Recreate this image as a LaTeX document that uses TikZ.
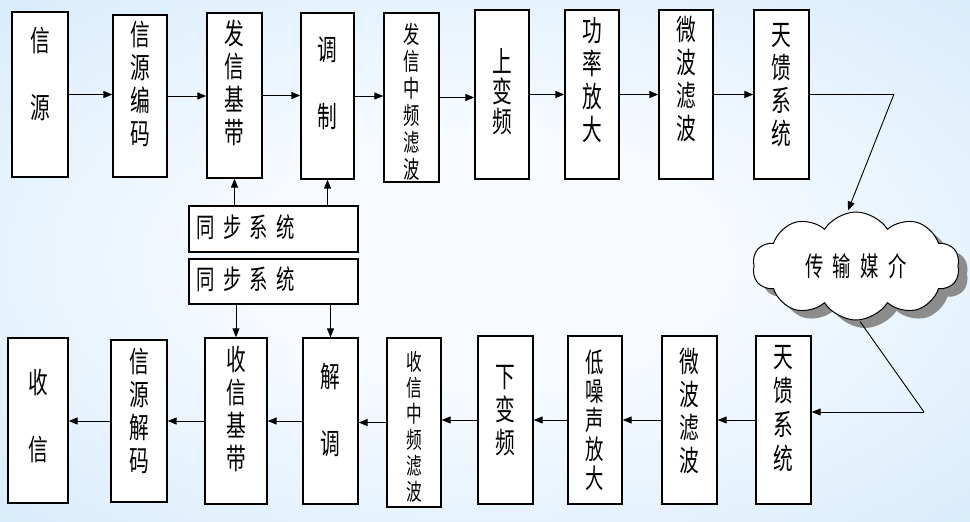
\documentclass[tikz,border=0pt]{standalone}
\usepackage{fontspec}
\newfontfamily\cjk[FakeStretch=0.68]{Noto Sans CJK SC}
\usetikzlibrary{arrows.meta,calc,shapes.symbols,fit}
\definecolor{bgedge}{RGB}{198,227,249}
\definecolor{bgmid}{RGB}{247,251,255}
\definecolor{shadowgray}{RGB}{140,140,140}
\pgfdeclareradialshading{bgshade}{\pgfpoint{0bp}{0bp}}{color(0bp)=(bgmid); color(12bp)=(bgmid); color(50bp)=(bgedge); color(60bp)=(bgedge)}
\tikzset{
  box/.style={draw=black, fill=white, line width=1.3pt, inner sep=0pt},
  lbl/.style={inner sep=0pt, align=center, text=black},
  big/.style={lbl, font=\cjk\fontsize{29}{33}\selectfont},
  bigtwo/.style={lbl, font=\cjk\fontsize{29}{67}\selectfont},
  small/.style={lbl, font=\cjk\fontsize{24}{27}\selectfont},
  arr/.style={-{Triangle[length=9pt,width=7pt]}, line width=0.9pt},
  ln/.style={line width=0.9pt},
  cloudshape/.style={cloud, cloud puffs=10, cloud puff arc=115, aspect=2,
      minimum width=207, minimum height=108, inner sep=0pt}
}
\begin{document}
\begin{tikzpicture}[x=1pt,y=-1pt]
\shade[shading=bgshade] (0,0) rectangle (970,522);
\useasboundingbox (0,0) rectangle (970,522);

% upper row boxes
\node[box, fit={(12,12) (68,177)}] (u1) {};
\node[box, fit={(113,15) (167,177)}] (u2) {};
\node[box, fit={(207,13) (262,178)}] (u3) {};
\node[box, fit={(301,13) (354,179)}] (u4) {};
\node[box, fit={(384,13) (439,182)}] (u5) {};
\node[box, fit={(475,10) (529,179)}] (u6) {};
\node[box, fit={(565,10) (619,179)}] (u7) {};
\node[box, fit={(659,10) (713,179)}] (u8) {};
\node[box, fit={(754,10) (809,179)}] (u9) {};
% sync boxes
\node[box, fit={(189,206) (358,252)}] (s1) {};
\node[box, fit={(189,259) (358,304)}] (s2) {};
% lower row boxes
\node[box, fit={(8,338) (68,503)}] (d1) {};
\node[box, fit={(111,340) (167,502)}] (d2) {};
\node[box, fit={(205,338) (267,504)}] (d3) {};
\node[box, fit={(303,338) (358,504)}] (d4) {};
\node[box, fit={(387,338) (441,507)}] (d5) {};
\node[box, fit={(478,336) (533,504)}] (d6) {};
\node[box, fit={(568,336) (622,504)}] (d7) {};
\node[box, fit={(662,336) (717,504)}] (d8) {};
\node[box, fit={(756,336) (811,504)}] (d9) {};

% upper labels
\node[bigtwo] (u1t) at (40,73.5) {信\\源};
\node[big] (u2t) at (140,84) {信\\源\\编\\码};
\node[big] (u3t) at (234.5,82.5) {发\\信\\基\\带};
\node[bigtwo] (u4t) at (327.5,83) {调\\制};
\node[small] (u5t) at (411.5,102) {发\\信\\中\\频\\滤\\波};
\node[lbl, font=\cjk\fontsize{29}{30}\selectfont] (u6t) at (502,92) {上\\变\\频};
\node[big] (u7t) at (592,80) {功\\率\\放\\大};
\node[big] (u8t) at (686,79) {微\\波\\滤\\波};
\node[big] (u9t) at (781.5,85.5) {天\\馈\\系\\统};

% sync labels
\node[lbl, anchor=west, font=\cjk\fontsize{27}{30}\selectfont] (s1t) at (196,227) {同\hspace{8.5pt}步\hspace{8.5pt}系\hspace{8.5pt}统};
\node[lbl, anchor=west, font=\cjk\fontsize{27}{30}\selectfont] (s2t) at (196,279) {同\hspace{8.5pt}步\hspace{8.5pt}系\hspace{8.5pt}统};

% lower labels
\node[bigtwo] (d1t) at (38,416) {收\\信};
\node[big] (d2t) at (139,410.5) {信\\源\\解\\码};
\node[big] (d3t) at (236,408.5) {收\\信\\基\\带};
\node[bigtwo] (d4t) at (330.5,409.5) {解\\调};
\node[lbl, font=\cjk\fontsize{23}{26}\selectfont] (d5t) at (414,427) {收\\信\\中\\频\\滤\\波};
\node[big] (d6t) at (505.5,411) {下\\变\\频};
\node[lbl, font=\cjk\fontsize{27}{29}\selectfont] (d7t) at (595,420) {低\\噪\\声\\放\\大};
\node[big] (d8t) at (689.5,411) {微\\波\\滤\\波};
\node[lbl, font=\cjk\fontsize{29}{34}\selectfont] (d9t) at (783.5,409) {天\\馈\\系\\统};

% cloud with shadow
\node[cloudshape, fill=shadowgray, draw=none] (medshadow) at (865,274) {};
\node[cloudshape, draw=black, fill=white, line width=1pt,
      font=\cjk\fontsize{27}{30}\selectfont] (med) at (856,266)
      {传\hspace{9.5pt}输\hspace{9.5pt}媒\hspace{9.5pt}介};

% upper arrows
\foreach \a/\b in {u1/u2,u2/u3,u3/u4,u4/u5,u5/u6,u6/u7,u7/u8,u8/u9}
  \draw[arr] (\a.east) -- (\a.east -| \b.west);
% sync arrows
\draw[arr] (s1.north -| u3.south) -- (u3.south);
\draw[arr] (s1.north -| u4.south) -- (u4.south);
\draw[arr] (s2.south -| d3.north) -- (d3.north);
\draw[arr] (s2.south -| d4.north) -- (d4.north);
% to and from medium
\coordinate (tr) at (894,94);
\coordinate (br) at (924,412);
\draw[ln] (u9.east |- tr) -- (tr);
\draw[arr] (tr) -- ($(med.north)+(-8,-1)$);
\draw[ln] ($(med.south)+(4,1)$) -- (br);
\draw[arr] (br) -- (br -| d9.east);
% lower arrows
\foreach \a/\b in {d9/d8,d8/d7,d7/d6,d6/d5,d5/d4,d4/d3,d3/d2,d2/d1}
  \draw[arr] (\a.west) -- (\a.west -| \b.east);
\end{tikzpicture}
\end{document}
